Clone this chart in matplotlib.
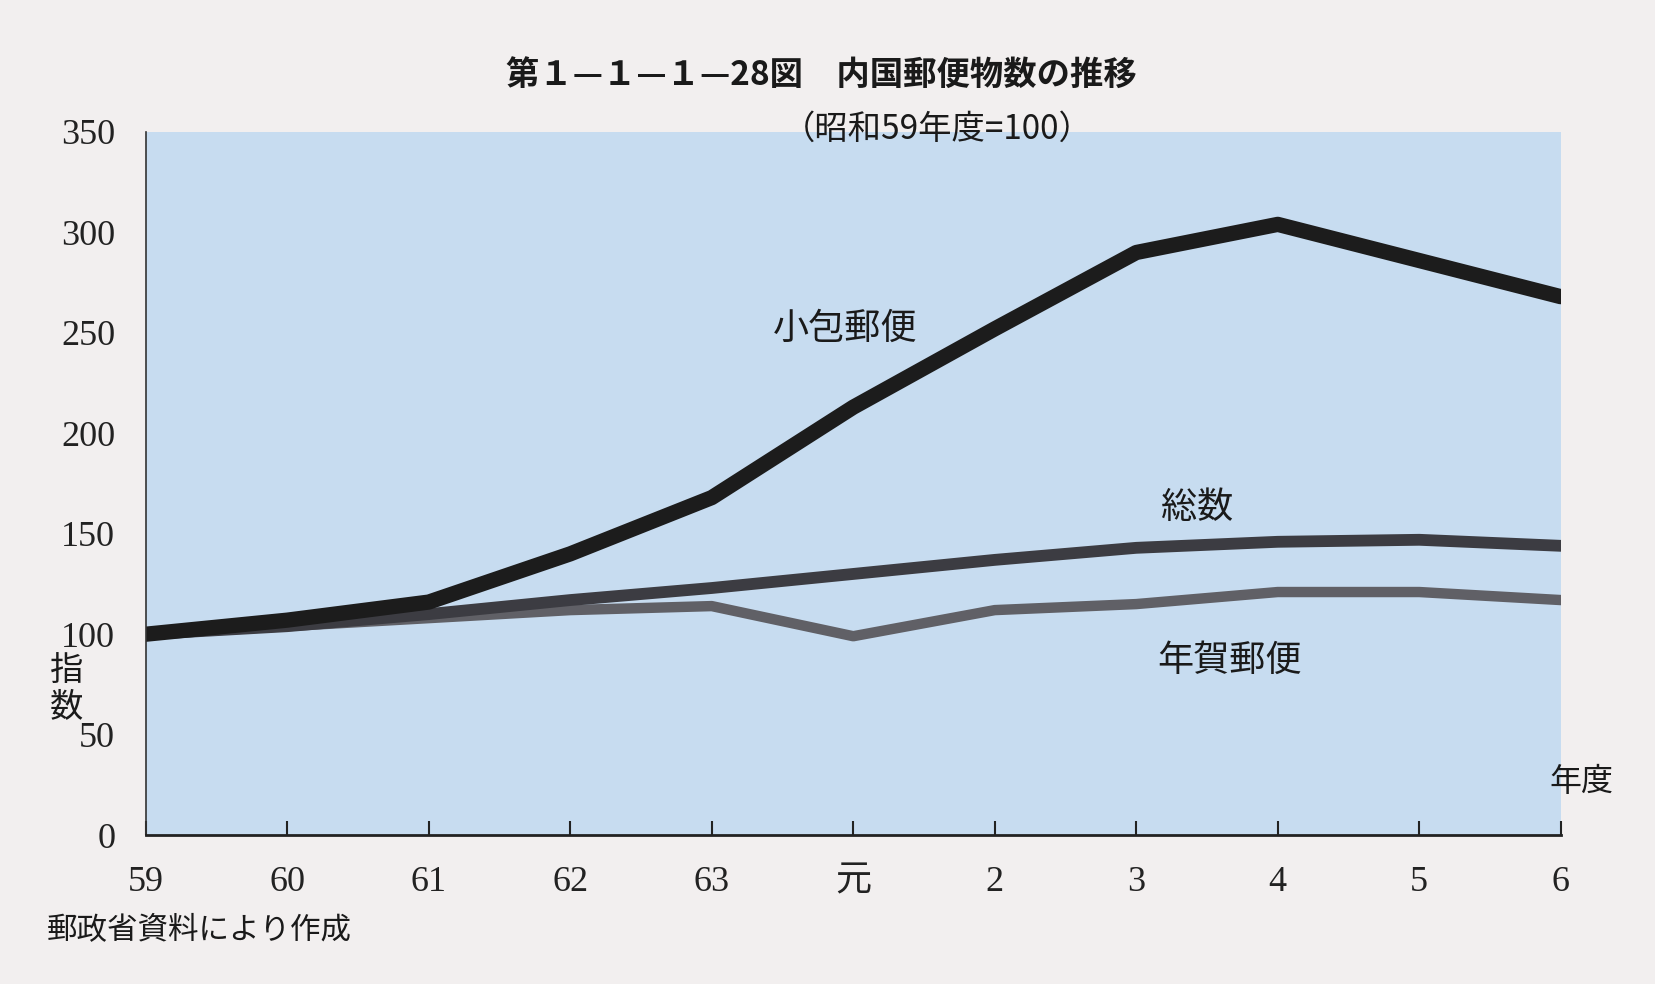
import matplotlib
matplotlib.use("Agg")
import matplotlib.pyplot as plt

plt.rcParams['font.family'] = ['Noto Sans CJK JP', 'DejaVu Sans']

years = ["59", "60", "61", "62", "63", "元", "2", "3", "4", "5", "6"]
parcel = [100, 107, 116, 140, 168, 213, 252, 290, 304, 286, 268]
total = [100, 104, 110, 117, 123, 130, 137, 143, 146, 147, 144]
new_year = [100, 104, 108, 112, 114, 99, 112, 115, 121, 121, 117]

FIG_BG = "#f2efef"
AX_BG = "#c7dcf0"

fig = plt.figure(figsize=(16.56, 9.84), dpi=100, facecolor=FIG_BG)
ax = fig.add_axes([0.088, 0.1513, 0.8545, 0.7146])
ax.set_facecolor(AX_BG)

x = list(range(len(years)))
ax.plot(x, new_year, color="#606066", linewidth=7.5, solid_capstyle="round", solid_joinstyle="round")
ax.plot(x, total, color="#3c3c42", linewidth=8.5, solid_capstyle="round", solid_joinstyle="round")
ax.plot(x, parcel, color="#1c1c1c", linewidth=11, solid_capstyle="round", solid_joinstyle="round")

ax.set_xlim(0, len(years) - 1)
ax.set_ylim(0, 350)

ax.set_xticks(x)
ax.set_xticklabels(years)
ax.set_yticks(range(0, 351, 50))

num_family = ['Liberation Serif', 'Noto Sans CJK JP']
for lab in ax.get_xticklabels() + ax.get_yticklabels():
    lab.set_family(num_family)
    lab.set_size(26)

ax.tick_params(axis="x", direction="in", length=10, width=1.5, pad=22, colors="#222222")
ax.tick_params(axis="y", length=0, pad=22, colors="#222222")

for side in ("top", "right"):
    ax.spines[side].set_visible(False)
ax.spines["left"].set_linewidth(1.2)
ax.spines["left"].set_color("#333333")
ax.spines["bottom"].set_linewidth(2)
ax.spines["bottom"].set_color("#222222")

# titles
fig.text(0.496, 0.923, "第１—１—１—28図　内国郵便物数の推移", ha="center", va="center",
         fontsize=24, fontweight="bold", color="#1a1a1a")
fig.text(0.566, 0.869, "（昭和59年度=100）", ha="center", va="center", fontsize=24, color="#1a1a1a")

# series labels
ax.text(4.94, 252, "小包郵便", ha="center", va="center", fontsize=26, color="#1a1a1a")
ax.text(7.43, 163, "総数", ha="center", va="center", fontsize=26, color="#1a1a1a")
ax.text(7.66, 87, "年賀郵便", ha="center", va="center", fontsize=26, color="#1a1a1a")

fig.text(0.955, 0.205, "年度", ha="center", va="center", fontsize=23, color="#1a1a1a")
fig.text(0.040, 0.300, "指\n数", ha="center", va="center", fontsize=24, color="#1a1a1a",
         linespacing=1.0)
fig.text(0.028, 0.054, "郵政省資料により作成", ha="left", va="center", fontsize=22, color="#1a1a1a")

fig.savefig("out.png", dpi=100, facecolor=FIG_BG)
